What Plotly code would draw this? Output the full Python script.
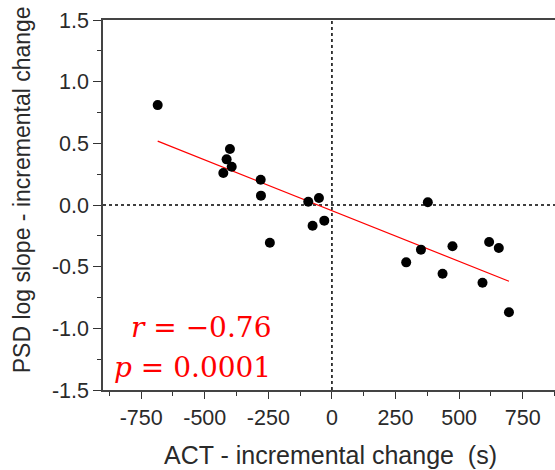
import numpy as np
import plotly.graph_objects as go

# Data
act_change = [-685, -401, -414, -394, -427, -280, -279, -244, -93, -51, -76, -30,
              377, 292, 350, 435, 474, 592, 618, 656, 696]
psd_change = [0.81, 0.454, 0.37, 0.31, 0.26, 0.205, 0.076, -0.306, 0.027, 0.057, -0.168, -0.127,
              0.022, -0.465, -0.362, -0.557, -0.335, -0.63, -0.30, -0.349, -0.87]

x_tickvals = [-750, -500, -250, 0, 250, 500, 750]
x_ticktext = ["-750", "-500", "-250", "0", "250", "500", "750"]
x_minor = [-875, -625, -375, -125, 125, 375, 625, 875]
y_tickvals = [-1.5, -1.0, -0.5, 0.0, 0.5, 1.0, 1.5]
y_ticktext = ["-1.5", "-1.0", "-0.5", "0.0", "0.5", "1.0", "1.5"]
y_minor = [-1.25, -0.75, -0.25, 0.25, 0.75, 1.25]

r_text = "<i>r</i> = −0.76"
p_text = "<i>p</i> = 0.0001"
x_title = "ACT - incremental change\u00a0\u00a0(s)"
y_title = "PSD log slope - incremental change"

# Linear fit
slope, intercept = np.polyfit(act_change, psd_change, 1)
fit_x = [min(act_change), max(act_change)]
fit_y = [slope * v + intercept for v in fit_x]

fig = go.Figure()
fig.add_trace(go.Scatter(x=fit_x, y=fit_y, mode="lines",
                         line=dict(color="#ff0000", width=1.2), showlegend=False))
fig.add_trace(go.Scatter(x=act_change, y=psd_change, mode="markers",
                         marker=dict(color="black", size=10), showlegend=False))

# dashed zero reference lines
fig.add_shape(type="line", xref="paper", yref="y", x0=0, x1=1, y0=0, y1=0,
              line=dict(color="black", width=1.5, dash="3px,3px"), layer="below")
fig.add_shape(type="line", xref="x", yref="paper", x0=0, x1=0, y0=0, y1=1,
              line=dict(color="black", width=1.5, dash="3px,3px"), layer="below")

tickfont = dict(family="Liberation Sans, Arial, sans-serif", size=21.5, color="#2a2a2a")
fig.update_xaxes(range=[-900, 877], tickmode="array", tickvals=x_tickvals, ticktext=x_ticktext,
                 ticks="outside", ticklen=7, tickwidth=1.3, tickcolor="#333",
                 showline=True, linecolor="#444", linewidth=1.5, mirror=True,
                 showgrid=False, zeroline=False, tickfont=tickfont,
                 minor=dict(tickmode="array", tickvals=x_minor, ticks="outside",
                            ticklen=4, tickwidth=1.2, tickcolor="#333", showgrid=False))
fig.update_yaxes(range=[-1.5, 1.5], tickmode="array", tickvals=y_tickvals, ticktext=y_ticktext,
                 ticks="outside", ticklen=8, tickwidth=1.3, tickcolor="#333",
                 showline=True, linecolor="#444", linewidth=1.5, mirror=False,
                 showgrid=False, zeroline=False, tickfont=tickfont,
                 minor=dict(tickmode="array", tickvals=y_minor, ticks="outside",
                            ticklen=4, tickwidth=1.2, tickcolor="#333", showgrid=False))

ytitlefont = dict(family="Liberation Sans, Arial, sans-serif", size=23, color="#2a2a2a")
xtitlefont = dict(family="Liberation Sans, Arial, sans-serif", size=25, color="#2a2a2a")
statfont = dict(family="DejaVu Serif, serif", size=28, color="#ff0000")
fig.update_layout(
    width=555, height=470,
    margin=dict(l=103, r=0, t=20, b=80),
    plot_bgcolor="white", paper_bgcolor="white",
    annotations=[
        dict(text=y_title, xref="paper", yref="paper", x=-0.179, y=0.54,
             textangle=-90, showarrow=False, font=ytitlefont, xanchor="center", yanchor="middle"),
        dict(text=x_title, xref="paper", yref="paper", x=0.504, y=-0.176,
             showarrow=False, font=xtitlefont, xanchor="center", yanchor="middle"),
        dict(text=r_text, xref="paper", yref="paper", x=0.376, y=0.17,
             showarrow=False, font=statfont, xanchor="right", yanchor="middle"),
        dict(text=p_text, xref="paper", yref="paper", x=0.376, y=0.062,
             showarrow=False, font=statfont, xanchor="right", yanchor="middle"),
    ],
)

fig.write_html("out.html")
